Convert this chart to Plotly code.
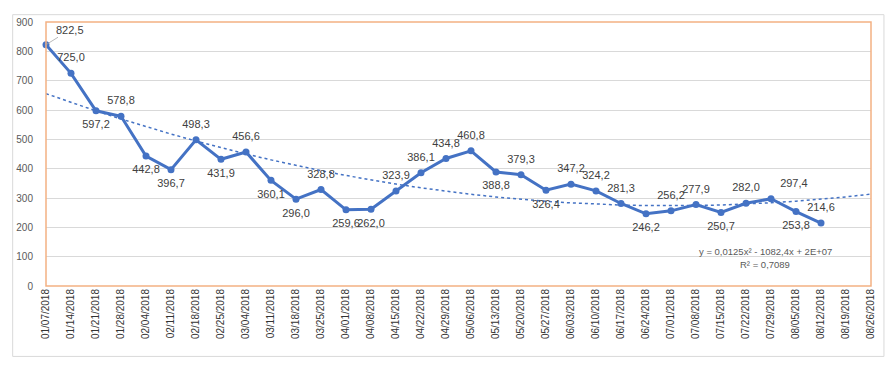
import numpy as np
import plotly.graph_objects as go

dates = ["01/07/2018", "01/14/2018", "01/21/2018", "01/28/2018", "02/04/2018", "02/11/2018",
         "02/18/2018", "02/25/2018", "03/04/2018", "03/11/2018", "03/18/2018", "03/25/2018",
         "04/01/2018", "04/08/2018", "04/15/2018", "04/22/2018", "04/29/2018", "05/06/2018",
         "05/13/2018", "05/20/2018", "05/27/2018", "06/03/2018", "06/10/2018", "06/17/2018",
         "06/24/2018", "07/01/2018", "07/08/2018", "07/15/2018", "07/22/2018", "07/29/2018",
         "08/05/2018", "08/12/2018", "08/19/2018", "08/26/2018"]
values = [822.5, 725.0, 597.2, 578.8, 442.8, 396.7, 498.3, 431.9, 456.6, 360.1, 296.0, 328.8,
          259.6, 262.0, 323.9, 386.1, 434.8, 460.8, 388.8, 379.3, 326.4, 347.2, 324.2, 281.3,
          246.2, 256.2, 277.9, 250.7, 282.0, 297.4, 253.8, 214.6]
label_pos = ["top right", "top center", "bottom center", "top center", "bottom center", "bottom center",
             "top center", "bottom center", "top center", "bottom center", "bottom center", "top center",
             "bottom center", "bottom center", "top center", "top center", "top center", "top center",
             "bottom center", "top center", "bottom center", "top center", "top center", "top center",
             "bottom center", "top center", "top center", "bottom center", "top center", "top right",
             "bottom center", "top center"]
y_ticks = [0, 100, 200, 300, 400, 500, 600, 700, 800, 900]
equation = "y = 0,0125x² - 1082,4x + 2E+07"
r_squared = "R² = 0,7089"

blue = "#4472C4"
n = len(values)
idx = np.arange(n)
coef = np.polyfit(idx, values, 2)
trend_x = np.arange(len(dates))
trend_y = np.polyval(coef, trend_x)

labels = [f"{v:.1f}".replace(".", ",") for v in values]
trace_labels = [""] + labels[1:]  # first label drawn with a leader line below

fig = go.Figure()
fig.add_trace(go.Scatter(
    x=dates, y=trend_y, mode="lines",
    line=dict(color=blue, width=1.5, dash="dot"),
    hoverinfo="skip", showlegend=False, cliponaxis=False))
fig.add_trace(go.Scatter(
    x=dates[:n], y=values, mode="lines+markers",
    line=dict(color=blue, width=3),
    marker=dict(color=blue, size=7),
    showlegend=False, cliponaxis=False))
# data labels (transparent larger markers give the label offset)
fig.add_trace(go.Scatter(
    x=dates[:n], y=values, mode="markers+text",
    marker=dict(color="rgba(0,0,0,0)", size=13),
    text=trace_labels, textposition=label_pos,
    textfont=dict(family="Liberation Sans", size=11, color="#404040"),
    hoverinfo="skip", showlegend=False, cliponaxis=False))

fig.add_annotation(x=dates[0], y=values[0], text=labels[0], showarrow=True, arrowhead=0,
                   arrowwidth=0.8, arrowcolor="#A6A6A6", ax=24, ay=-15, xanchor="center",
                   font=dict(family="Liberation Sans", size=11, color="#404040"))

# outer chart frame and plot-area frame
fig.add_shape(type="rect", xref="paper", yref="paper", x0=-0.0404, x1=1.0157, y0=-0.2667, y1=1.0278,
              line=dict(color="#D9D9D9", width=1), layer="below")
fig.add_shape(type="rect", xref="paper", yref="paper", x0=0, x1=1, y0=0, y1=1,
              line=dict(color="#F4B183", width=1.5))

fig.add_annotation(xref="paper", yref="paper", x=0.872, y=0.104, text=equation, showarrow=False,
                   xanchor="center", font=dict(family="Liberation Sans", size=9.5, color="#595959"))
fig.add_annotation(xref="paper", yref="paper", x=0.872, y=0.052, text=r_squared, showarrow=False,
                   xanchor="center", font=dict(family="Liberation Sans", size=9.5, color="#595959"))

fig.update_layout(
    width=886, height=360,
    margin=dict(l=34, r=23, t=8, b=82),
    paper_bgcolor="white", plot_bgcolor="white",
    font=dict(family="Liberation Sans", color="#595959"),
    xaxis=dict(type="category", categoryorder="array", categoryarray=dates,
               range=[0, len(dates) - 1], tickangle=-90, showgrid=False,
               tickfont=dict(size=10, color="#333333"), ticks="", showline=False, zeroline=False),
    yaxis=dict(range=[0, 900], tickvals=y_ticks, showgrid=True, gridcolor="#D9D9D9",
               tickfont=dict(size=10, color="#595959"), zeroline=False, showline=False,
               ticks="", ticklabelstandoff=12),
)

fig.write_html("out.html")
